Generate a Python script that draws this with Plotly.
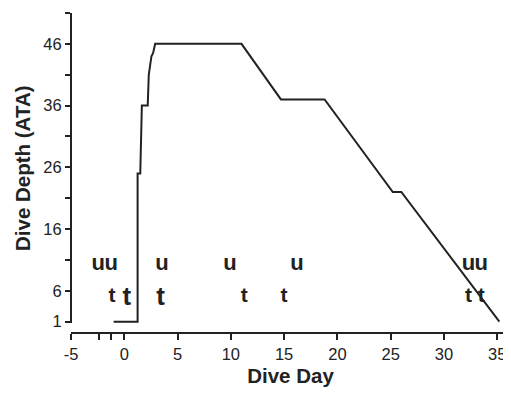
import plotly.graph_objects as go

# Dive profile (day, depth ATA)
profile_day = [-1, 1.25, 1.25, 1.5, 1.65, 2.2, 2.3, 2.55, 2.7, 2.9, 11, 14.7, 18.8, 25.2, 26, 35.2]
profile_ata = [1, 1, 25, 25, 36, 36, 41, 44, 44.5, 46, 46, 37, 37, 22, 22, 1]

# "u" markers
u_day = [-2.45, -1.23, 3.55, 9.93, 16.2, 32.3, 33.5]
u_ata = [10.2, 10.2, 10.2, 10.2, 10.2, 10.2, 10.2]

# small "t" markers
t_day = [-1.16, 11.25, 15.0, 32.3, 33.5]
t_ata = [5.0, 5.0, 5.0, 5.0, 5.0]

# large "t" markers
tl_day = [0.25, 3.4]
tl_ata = [4.8, 4.8]

x_tickvals = [-5, -2.4, -1.2, 0, 5, 10, 15, 20, 25, 30, 35]
x_ticktext = ["-5", "", "", "0", "5", "10", "15", "20", "25", "30", "35"]
y_tickvals = [1, 6, 11, 16, 21, 26, 31, 36, 41, 46, 51]
y_ticktext = ["1", "6", "", "16", "", "26", "", "36", "", "46", ""]

FONT = "Liberation Sans, Arial, sans-serif"
INK = "#222222"

fig = go.Figure()
fig.add_trace(go.Scatter(x=profile_day, y=profile_ata, mode="lines",
                         line=dict(color=INK, width=2), showlegend=False, hoverinfo="skip"))
fig.add_trace(go.Scatter(x=u_day, y=u_ata, mode="text", text=["u"] * len(u_day),
                         textfont=dict(family=FONT, size=22, color=INK, weight="bold"),
                         cliponaxis=False, showlegend=False))
fig.add_trace(go.Scatter(x=t_day, y=t_ata, mode="text", text=["t"] * len(t_day),
                         textfont=dict(family=FONT, size=21, color=INK, weight="bold"),
                         cliponaxis=False, showlegend=False))
fig.add_trace(go.Scatter(x=tl_day, y=tl_ata, mode="text", text=["t"] * len(tl_day),
                         textfont=dict(family=FONT, size=26, color=INK, weight="bold"),
                         cliponaxis=False, showlegend=False))

# page body has an 8px margin, so the figure is 8px smaller than the window
fig.update_layout(
    width=503, height=386,
    margin=dict(l=63, r=1, t=5, b=61),
    paper_bgcolor="white", plot_bgcolor="white",
    font=dict(family=FONT, color=INK, size=16.5),
    xaxis=dict(range=[-5, 36.2], domain=[0, 1], anchor="free", position=0,
               automargin=False,
               tickvals=x_tickvals, ticktext=x_ticktext,
               ticks="outside", ticklen=6, tickwidth=2, tickcolor=INK,
               showline=True, linewidth=2, linecolor=INK,
               showgrid=False, zeroline=False,
               tickfont=dict(size=16.5, color=INK),
               title=dict(text="Dive Day", font=dict(size=20.5, weight="bold", color=INK), standoff=6)),
    yaxis=dict(range=[0.7, 51], domain=[0.0297, 1], anchor="free", position=0,
               automargin=False,
               tickvals=y_tickvals, ticktext=y_ticktext,
               ticks="outside", ticklen=5, tickwidth=2, tickcolor=INK,
               showline=True, linewidth=2, linecolor=INK,
               showgrid=False, zeroline=False,
               tickfont=dict(size=16.5, color=INK),
               title=dict(text="Dive Depth (ATA)", font=dict(size=20.5, weight="bold", color=INK), standoff=6)),
)

fig.write_html("out.html")
